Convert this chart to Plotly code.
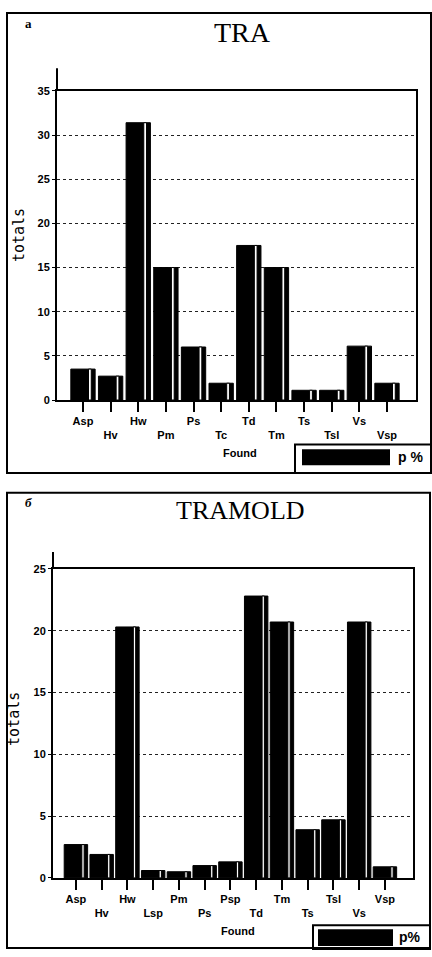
import plotly.graph_objects as go

W, H = 432, 957

# ---------------- data ----------------
TRA_CATS = ["Asp", "Hv", "Hw", "Pm", "Ps", "Tc", "Td", "Tm", "Ts", "Tsl", "Vs", "Vsp"]
TRA_VALS = [3.5, 2.7, 31.4, 15.0, 6.0, 1.9, 17.5, 15.0, 1.1, 1.1, 6.1, 1.9]

TRAMOLD_CATS = ["Asp", "Hv", "Hw", "Lsp", "Pm", "Ps", "Psp", "Td", "Tm", "Ts", "Tsl", "Vs", "Vsp"]
TRAMOLD_VALS = [2.7, 1.9, 20.3, 0.6, 0.5, 1.0, 1.3, 22.8, 20.7, 3.9, 4.7, 20.7, 0.9]

TRA_YTICKS = [0, 5, 10, 15, 20, 25, 30, 35]
TRAMOLD_YTICKS = [0, 5, 10, 15, 20, 25]


def px(x):
    return x / W


def py(y):
    return 1 - y / H


def stagger(cats):
    return [c if i % 2 == 0 else "<br>" + c for i, c in enumerate(cats)]


fig = go.Figure()

# bars: black body + thin white stripe near the right edge
for cats, vals, xa, ya, bw, so, sw in [
    (TRA_CATS, TRA_VALS, "x", "y", 0.88, 0.20, 0.10),
    (TRAMOLD_CATS, TRAMOLD_VALS, "x2", "y2", 0.91, 0.23, 0.09),
]:
    fig.add_trace(go.Bar(x=cats, y=vals, xaxis=xa, yaxis=ya, width=bw, offset=-bw / 2,
                         marker=dict(color="black", line=dict(color="black", width=1)),
                         showlegend=False, hoverinfo="x+y"))
    fig.add_trace(go.Bar(x=cats, y=vals, xaxis=xa, yaxis=ya, width=sw, offset=so,
                         marker=dict(color="white", line=dict(color="black", width=1)),
                         showlegend=False, hoverinfo="skip"))

tickfont = dict(family="Liberation Sans", size=11, color="black", weight="bold")
axis_common = dict(showline=True, linecolor="black", linewidth=2, mirror=True,
                   zeroline=False)

fig.update_layout(
    width=W, height=H,
    margin=dict(l=0, r=0, t=0, b=0),
    paper_bgcolor="white", plot_bgcolor="white",
    barmode="overlay",
    xaxis=dict(domain=[px(57), px(416)], anchor="y", type="category",
               range=[-0.94, 12.05], tickvals=TRA_CATS, ticktext=stagger(TRA_CATS),
               ticks="outside", ticklen=10, tickcolor="black", tickwidth=2,
               showgrid=False, tickfont=tickfont, tickangle=0, **axis_common),
    yaxis=dict(domain=[py(399), py(86)], anchor="x", range=[0, 35],
               tickvals=TRA_YTICKS, ticks="outside", ticklen=3, tickcolor="black",
               showgrid=True, gridcolor="#222", griddash="dot", gridwidth=1,
               tickfont=tickfont, **axis_common),
    xaxis2=dict(domain=[px(53), px(413)], anchor="y2", type="category",
                range=[-0.89, 13.09], tickvals=TRAMOLD_CATS, ticktext=stagger(TRAMOLD_CATS),
                ticks="outside", ticklen=10, tickcolor="black", tickwidth=2,
                showgrid=False, tickfont=tickfont, tickangle=0, **axis_common),
    yaxis2=dict(domain=[py(883), py(570)], anchor="x2", range=[0, 25],
                tickvals=TRAMOLD_YTICKS, ticks="outside", ticklen=3, tickcolor="black",
                showgrid=True, gridcolor="#222", griddash="dot", gridwidth=1,
                tickfont=tickfont, **axis_common),
)

shapes = [
    # panel frames
    dict(type="rect", xref="paper", yref="paper", x0=px(7), x1=px(431), y0=py(473), y1=py(7),
         line=dict(color="black", width=2)),
    dict(type="rect", xref="paper", yref="paper", x0=px(7), x1=px(430), y0=py(954), y1=py(493),
         line=dict(color="black", width=2)),
    # y-axis extension above plot
    dict(type="line", xref="paper", yref="paper", x0=px(57), x1=px(57), y0=py(86), y1=py(63),
         line=dict(color="black", width=2)),
    dict(type="line", xref="paper", yref="paper", x0=px(53), x1=px(53), y0=py(570), y1=py(553),
         line=dict(color="black", width=2)),
    # legend boxes
    dict(type="rect", xref="paper", yref="paper", x0=px(295), x1=px(433), y0=py(473), y1=py(444),
         line=dict(color="black", width=2)),
    dict(type="rect", xref="paper", yref="paper", x0=px(302), x1=px(390), y0=py(465), y1=py(449),
         line=dict(width=0), fillcolor="black"),
    dict(type="rect", xref="paper", yref="paper", x0=px(313), x1=px(430), y0=py(955), y1=py(931),
         line=dict(color="black", width=2)),
    dict(type="rect", xref="paper", yref="paper", x0=px(318), x1=px(393), y0=py(952), y1=py(935),
         line=dict(width=0), fillcolor="black"),
]
fig.update_layout(shapes=shapes)


def ann(text, x, y, size, family="Liberation Sans", weight="normal", angle=0, style="normal"):
    return dict(text=text, x=px(x), y=py(y), xref="paper", yref="paper", showarrow=False,
                xanchor="center", yanchor="middle", textangle=angle,
                font=dict(family=family, size=size, color="black", weight=weight, style=style))


annotations = [
    ann("a", 28, 18, 13, family="Liberation Serif", weight="bold"),
    ann("TRA", 242, 27, 28, family="Liberation Serif"),
    ann("totals", 19, 232, 15, family="DejaVu Sans Mono", angle=-90),
    ann("Found", 240, 453, 11, weight="bold"),
    ann("p %", 410, 457, 14, weight="bold"),
    ann("б", 28, 503, 13, family="Liberation Serif", weight="bold", style="italic"),
    ann("TRAMOLD", 240, 511, 26, family="Liberation Serif"),
    ann("totals", 14, 722, 15, family="DejaVu Sans Mono", angle=-90),
    ann("Found", 238, 937, 11, weight="bold"),
    ann("p%", 410, 943, 14, weight="bold"),
]
fig.update_layout(annotations=annotations)

fig.write_html(
    "out.html",
    config={"displayModeBar": False},
    post_script="document.body.style.margin='0px';document.body.style.overflow='hidden';",
)
